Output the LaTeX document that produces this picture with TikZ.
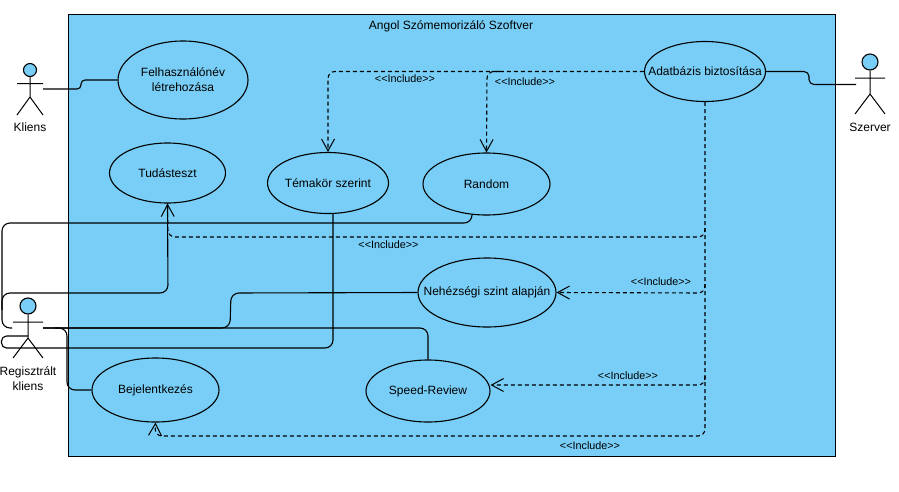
\documentclass[tikz,border=0pt]{standalone}
\usepackage{fontspec}
\setmainfont{Liberation Sans}[Ligatures=NoCommon]
\usetikzlibrary{arrows.meta,shapes.geometric}
\definecolor{ucblue}{HTML}{78CEF6}
\tikzset{
  usecase/.style={draw=black,fill=ucblue,ellipse,line width=1.1pt,inner sep=-20pt,font=\fontsize{12}{15}\selectfont,align=center},
  head/.style={draw=black,fill=ucblue,circle,line width=1.1pt,inner sep=0pt},
  limb/.style={draw=black,line width=1pt},
  conn/.style={draw=black,line width=1.1pt,rounded corners=8pt},
  inc/.style={draw=black,line width=1.1pt,dash pattern=on 4pt off 3pt,rounded corners=7pt},
  tip/.style={-{Straight Barb[length=12pt,width=13pt,line width=1pt]}},
  txt/.style={font=\fontsize{12}{15}\selectfont,align=center,inner sep=0pt},
  inclabel/.style={font=\fontsize{10.8}{13}\selectfont,inner sep=0pt},
}
\newcommand{\inctext}{<{}<Include>{}>}
\begin{document}
\begin{tikzpicture}[x=1pt,y=-1pt]
\useasboundingbox (0,0) rectangle (899,491);
\fill[white] (0,0) rectangle (899,491);
\node[draw=black,fill=ucblue,line width=1.1pt,minimum width=767.5pt,minimum height=442.5pt,inner sep=0pt,anchor=north west] (sys) at (67.5,13.5) {};
\node[txt] (title) at (451,26) {Angol Szómemorizáló Szoftver};

% use cases
\node[usecase,minimum width=130pt,minimum height=78pt] (felh) at (183,80) {Felhasználónév\\létrehozása};
\node[usecase,minimum width=116pt,minimum height=60pt] (tud) at (167.5,173) {Tudásteszt};
\node[usecase,minimum width=121pt,minimum height=61pt] (tem) at (328,183) {Témakör szerint};
\node[usecase,minimum width=127pt,minimum height=62pt] (ran) at (486.5,184) {Random};
\node[usecase,minimum width=121pt,minimum height=60pt] (adat) at (705,71.5) {Adatbázis biztosítása};
\node[usecase,minimum width=138pt,minimum height=69pt] (neh) at (487,292.5) {Nehézségi szint alapján};
\node[usecase,minimum width=124pt,minimum height=62pt] (spe) at (428,391) {Speed-Review};
\node[usecase,minimum width=127pt,minimum height=64pt] (bej) at (155.5,390) {Bejelentkezés};

% actors
\node[head,minimum size=13pt] (kh) at (30,70) {};
\coordinate (kh1) at (30,97);
\coordinate (kout) at (43,89);
\draw[limb] (kh.south) -- (kh1) -- (17,115) (kh1) -- (43,115) (17,83.7) -- (43,83.7);
\node[txt] (klabel) at (30,127) {Kliens};

\node[head,minimum size=16pt] (sh) at (870,62) {};
\coordinate (sh1) at (870,94);
\coordinate (sout) at (856,84.5);
\draw[limb] (sh.south) -- (sh1) -- (855,114) (sh1) -- (885,114) (855,78) -- (885,78);
\node[txt] (slabel) at (870,127) {Szerver};

\node[head,minimum size=16pt] (rh) at (28,306) {};
\coordinate (rh1) at (28,338);
\coordinate (rout) at (43,328);
\coordinate (rleft) at (12,328);
\coordinate (rbody) at (28,336);
\draw[limb] (rh.south) -- (rh1) -- (13,358) (rh1) -- (43,358) (13,322) -- (43,322);
\node[txt] (rlabel) at (28,378.5) {Regisztrált\\kliens};

% associations
\coordinate (k1) at (81,89); \coordinate (k2) at (81,80);
\draw[conn,rounded corners=4pt] (kout) -- (k1) -- (k2) -- (felh.west);
\coordinate (s1) at (809,71.5); \coordinate (s2) at (809,84.5);
\draw[conn,rounded corners=5pt] (adat.east) -- (s1) -- (s2) -- (sout);

\coordinate (a1) at (2,328); \coordinate (a2) at (2,223); \coordinate (a3) at (472,223);
\draw[conn] (rleft) -- (a1) -- (a2) -- (a3) -- (ran.south -| a3);
\coordinate (b0) at (2,310); \coordinate (b1) at (2,293); \coordinate (b2) at (168,293);
\draw[conn] (b0) -- (b1) -- (b2) -- (tud.south);
\coordinate (c1) at (1.5,336); \coordinate (c2) at (1.5,348); \coordinate (c3) at (333,348);
\draw[conn,rounded corners=5pt] (rbody) -- (c1) -- (c2) -- (10,348);
\draw[conn] (10,348) -- (c3) -- (tem.south -| c3);
\coordinate (d1) at (230,328); \coordinate (d2) at (231,293);
\draw[conn] (rout) -- (d1) -- (d2) -- (neh.west);
\coordinate (e1) at (428,328);
\draw[conn] (rout) -- (e1) -- (spe.north);
\coordinate (f0) at (55,328); \coordinate (f1) at (67,328); \coordinate (f2) at (67,390);
\draw[conn] (f0) -- (f1) -- (f2) -- (bej.west);

% includes
\coordinate (g1) at (328,71.5);
\draw[inc,tip] (adat.west) -- (g1) -- (tem.north);
\coordinate (g0) at (500,71.5); \coordinate (g2) at (487,71.5);
\draw[inc,tip] (g0) -- (g2) -- (ran.north);
\coordinate (h) at (705,436); \coordinate (h2) at (155,436);
\draw[inc,tip] (adat.south) -- (h) -- (h2) -- (bej.south);
\coordinate (i0) at (705,228); \coordinate (i) at (705,237); \coordinate (i2) at (168,237);
\draw[inc,tip] (i0) -- (i) -- (i2) -- (tud.south);
\coordinate (j0) at (705,284); \coordinate (j) at (705,293);
\draw[inc,tip] (j0) -- (j) -- (neh.east);
\coordinate (l0) at (705,376); \coordinate (l) at (705,385);
\draw[inc,tip] (l0) -- (l) -- (spe.east |- l);

% labels
\node[inclabel] (il1) at (405,79) {\inctext};
\node[inclabel] (il2) at (525,82) {\inctext};
\node[inclabel] (il3) at (388.5,245) {\inctext};
\node[inclabel] (il4) at (661,282) {\inctext};
\node[inclabel] (il5) at (628,376) {\inctext};
\node[inclabel] (il6) at (590,446) {\inctext};
\end{tikzpicture}
\end{document}
